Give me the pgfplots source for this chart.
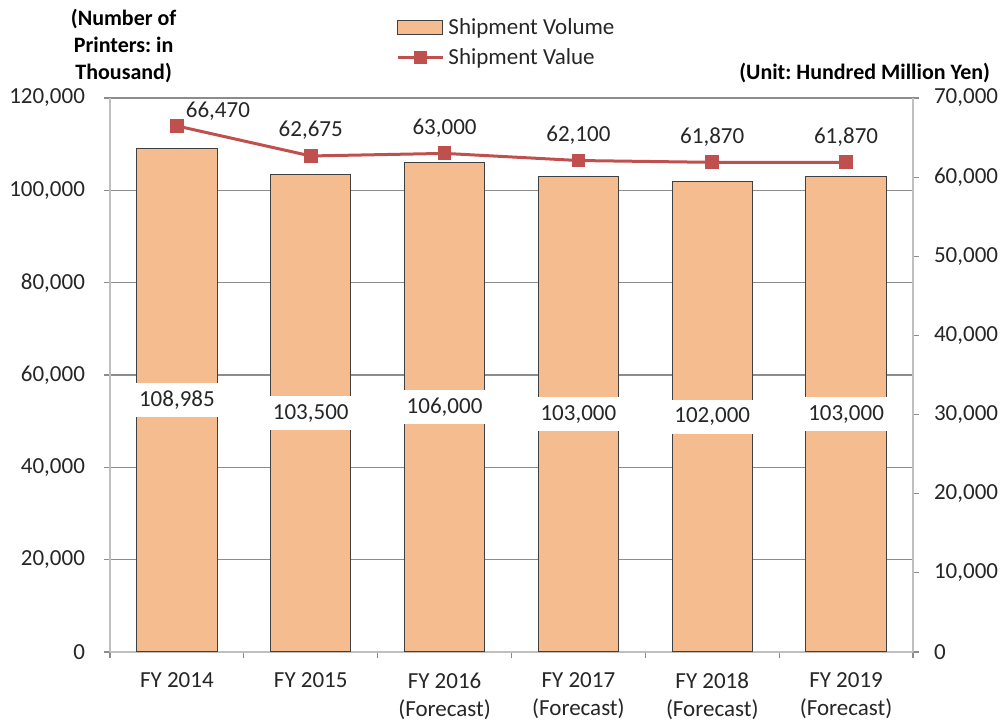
\documentclass[border=0pt]{standalone}
\usepackage{pgfplots}
\pgfplotsset{compat=1.18}
\usepackage{pgfplotstable}
\usepackage{fontspec}
\setmainfont{Carlito}
\frenchspacing
\definecolor{barfill}{HTML}{F5BD8F}
\definecolor{baredge}{HTML}{404040}
\definecolor{linecol}{HTML}{C0504D}
\definecolor{axgray}{HTML}{BFBFBF}
\definecolor{gridgray}{HTML}{8C8C8C}

\pgfplotsset{
  barlegend/.style={legend image code/.code={\draw[##1] (0pt,-3.5pt) rectangle (22.5pt,3.5pt);}},
  linelegend/.style={legend image code/.code={\draw[##1, mark repeat=2, mark phase=2] plot coordinates {(0pt,0pt)(11.25pt,0pt)(22.5pt,0pt)};}},
}

\pgfplotstableread{
x vol lab
0 108985 108,985
1 103500 103,500
2 106000 106,000
3 103000 103,000
4 102000 102,000
5 103000 103,000
}\voltable

\pgfplotstableread{
x val dx dy lab
0 66470 20.5 -1.5 66,470
1 62675 0 4 62,675
2 63000 0 4 63,000
3 62100 0 4 62,100
4 61870 0 4 61,870
5 61870 0 4 61,870
}\valtable

\begin{document}
\begin{tikzpicture}
\useasboundingbox (0,0) rectangle (502pt,360.5pt);
\begin{axis}[
  at={(55pt,34.5pt)}, anchor=south west,
  scale only axis, width=401.5pt, height=277pt,
  font=\fontsize{11.5}{14}\selectfont,
  xmin=-0.5, xmax=5.5,
  ymin=0, ymax=120000,
  ytick={0,20000,...,120000},
  yticklabels={0,{20,000},{40,000},{60,000},{80,000},{100,000},{120,000}},
  axis y line*=left, axis x line*=bottom,
  axis line style={draw=axgray, line width=0.8pt},
  tick style={draw=gridgray, line width=0.6pt},
  tick align=outside, major tick length=3pt,
  ymajorgrids, major grid style={draw=gridgray, line width=0.6pt},
  xtick={-0.5,0.5,...,5.5}, xticklabels={},
  extra x ticks={0,1,2,3,4,5},
  extra x tick labels={FY 2014,FY 2015,{FY 2016\\(Forecast)},{FY 2017\\(Forecast)},{FY 2018\\(Forecast)},{FY 2019\\(Forecast)}},
  extra x tick style={major tick length=0pt, grid=none, xticklabel style={align=center, anchor=north, yshift=-7pt}},
  scaled y ticks=false,
  yticklabel style={xshift=-6pt, text=black!85},
  xticklabel style={text=black!85},
  ylabel={(Number of\\Printers: in\\Thousand)},
  ylabel style={rotate=-90, at={(axis description cs:0.017,1.0)}, anchor=south, align=center, font=\fontsize{11}{13.5}\selectfont\bfseries, yshift=4pt},
  legend style={draw=none, fill=none, at={(axis description cs:0.495,1.1)}, anchor=center, legend cell align=left, row sep=1.5pt, font=\fontsize{11.5}{13}\selectfont, text=black!85},
  clip=false,
]
\addplot[ybar, bar width=0.6, fill=barfill, draw=baredge, line width=0.5pt, barlegend]
  table[x=x, y=vol] {\voltable};
\addlegendentry{Shipment Volume}
\addlegendimage{color=linecol, line width=1.5pt, mark=square*, mark size=2.7pt, linelegend}
\addlegendentry{Shipment Value}
\addplot[draw=none, mark=none, forget plot,
  nodes near coords, point meta=explicit symbolic,
  every node near coord/.append style={anchor=center, fill=white, inner xsep=2pt, minimum height=17pt, text=black!85, font=\fontsize{11.5}{13}\selectfont}]
  table[x=x, y expr=\thisrow{vol}/2, meta=lab] {\voltable};
\end{axis}
\begin{axis}[
  at={(55pt,34.5pt)}, anchor=south west,
  scale only axis, width=401.5pt, height=277pt,
  font=\fontsize{11.5}{14}\selectfont,
  xmin=-0.5, xmax=5.5,
  ymin=0, ymax=70000,
  ytick={0,10000,...,70000},
  yticklabels={0,{10,000},{20,000},{30,000},{40,000},{50,000},{60,000},{70,000}},
  axis y line*=right, axis x line=none,
  axis line style={draw=axgray, line width=0.8pt},
  tick style={draw=gridgray, line width=0.6pt},
  tick align=outside, major tick length=3pt,
  scaled y ticks=false,
  yticklabel style={xshift=4pt, text=black!85},
  ylabel={(Unit: Hundred Million Yen)},
  ylabel style={rotate=-90, at={(axis description cs:1,1)}, anchor=south east, xshift=42pt, yshift=4pt, font=\fontsize{11}{13.5}\selectfont\bfseries},
  clip=false,
]
\addplot[color=linecol, line width=1.5pt, mark=square*, mark size=2.7pt,
  nodes near coords, point meta=explicit symbolic,
  visualization depends on={\thisrow{dx} \as \dx},
  visualization depends on={\thisrow{dy} \as \dy},
  every node near coord/.append style={anchor=south, xshift=\dx pt, yshift=\dy pt, text=black!85, font=\fontsize{11.5}{13}\selectfont}]
  table[x=x, y=val, meta=lab] {\valtable};
\end{axis}
\end{tikzpicture}
\end{document}
